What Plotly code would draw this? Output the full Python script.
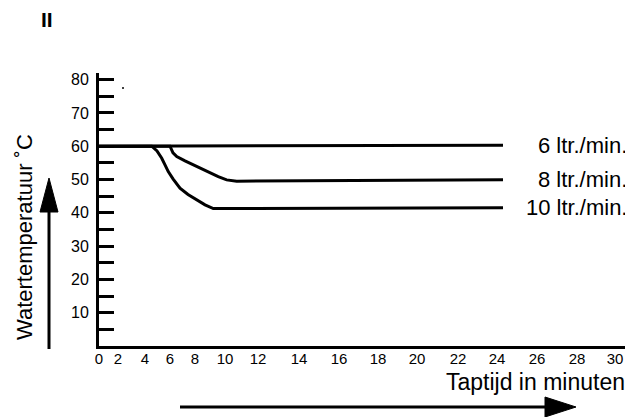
import numpy as np
import plotly.graph_objects as go

# ---------------- data ----------------
TIME_TICKS = [0, 2, 4, 6, 8, 10, 12, 14, 16, 18, 20, 22, 24, 26, 28, 30]
TEMP_TICKS = [10, 20, 30, 40, 50, 60, 70, 80]

TIME_6 = [0, 24.3]
TEMP_6 = [60.0, 60.3]

TIME_8 = [0, 6.0, 6.24, 6.54, 7.2, 7.86, 8.4, 9.0, 9.55, 10.1, 10.71, 24.3]
TEMP_8 = [60.0, 60.0, 58.0, 56.9, 55.6, 54.4, 53.3, 52.2, 50.9, 49.9, 49.5, 49.9]

TIME_10 = [0, 4.54, 4.96, 5.34, 5.6, 5.86, 6.24, 6.8, 7.44, 8.11, 8.67, 9.22, 24.3]
TEMP_10 = [60.0, 60.0, 58.6, 56.4, 54.4, 52.4, 50.2, 47.4, 45.5, 43.9, 42.4, 41.3, 41.5]

SERIES_LABELS = ["6 ltr./min.", "8 ltr./min.", "10 ltr./min."]

# ---------------- layout ----------------
OFF = 8                      # page offset of the figure inside the browser window
WIN_W, WIN_H = 633, 417
W, H = WIN_W - OFF, WIN_H - OFF
PL, PR, PT, PB = 99, 633, 73, 346      # plot area in window pixels
# the printed time axis is not evenly spaced: axis position of each tick label
TICK_POS = [99, 118, 145, 170, 195, 225, 258, 299, 339, 378, 417, 458, 497, 537, 577, 615]
X_RANGE = [PL, PR]
Y_RANGE = [0, 82.0]
FONT = "Liberation Sans, Arial, Helvetica, sans-serif"


def tscale(minutes):
    """piecewise-linear time scale of the printed axis"""
    return np.interp(minutes, TIME_TICKS, TICK_POS)


def px(x):
    return (x - PL) / (PR - PL)


def py(y):
    return (PB - y) / (PB - PT)


fig = go.Figure()
for t, v in [(TIME_6, TEMP_6), (TIME_8, TEMP_8), (TIME_10, TEMP_10)]:
    fig.add_trace(go.Scatter(
        x=tscale(t), y=v, mode="lines",
        line=dict(color="black", width=3),
        showlegend=False, hoverinfo="skip"))

annotations = []
ends = [TEMP_6[-1], TEMP_8[-1], TEMP_10[-1]]
for lab, yv in zip(SERIES_LABELS, ends):
    annotations.append(dict(x=px(629), xref="paper", y=yv, yref="y", text=lab,
                            xanchor="right", yanchor="middle",
                            showarrow=False, font=dict(size=22, family=FONT, color="black")))

annotations.append(dict(x=px(627), y=py(382), xref="paper", yref="paper",
                        text="Taptijd in minuten", xanchor="right", yanchor="middle",
                        showarrow=False, font=dict(size=23, family=FONT, color="black")))
annotations.append(dict(x=px(24), y=py(237), xref="paper", yref="paper",
                        text="Watertemperatuur ˚C", textangle=-90,
                        xanchor="center", yanchor="middle",
                        showarrow=False, font=dict(size=22, family=FONT, color="black")))
annotations.append(dict(x=px(47), y=py(19), xref="paper", yref="paper",
                        text="<b>II</b>", xanchor="center", yanchor="middle",
                        showarrow=False, font=dict(size=21, family=FONT, color="black")))

shapes = [
    dict(type="line", xref="paper", yref="paper", x0=px(180), x1=px(548),
         y0=py(407), y1=py(407), line=dict(color="black", width=3)),
    dict(type="path", xref="paper", yref="paper",
         path=f"M {px(545)} {py(397)} L {px(576)} {py(407)} L {px(545)} {py(417)} Z",
         fillcolor="black", line=dict(color="black", width=1)),
    dict(type="line", xref="paper", yref="paper", x0=px(49), x1=px(49),
         y0=py(349), y1=py(205), line=dict(color="black", width=3)),
    dict(type="path", xref="paper", yref="paper",
         path=f"M {px(40)} {py(212)} L {px(49)} {py(178)} L {px(58)} {py(212)} Z",
         fillcolor="black", line=dict(color="black", width=1)),
    # small speck printed in the original near the top of the axis
    dict(type="circle", xref="paper", yref="paper", x0=px(122), x1=px(124),
         y0=py(87), y1=py(89), fillcolor="black", line=dict(width=0)),
]

ytickvals = list(range(5, 81, 5))
yticktext = [str(v) if v in TEMP_TICKS else "" for v in ytickvals]

fig.update_layout(
    width=W, height=H,
    margin=dict(l=PL - OFF, r=(OFF + W) - PR, t=PT - OFF, b=(OFF + H) - PB, pad=0),
    paper_bgcolor="white", plot_bgcolor="white",
    font=dict(family=FONT, color="black"),
    xaxis=dict(range=X_RANGE, tickvals=TICK_POS, ticktext=[str(t) for t in TIME_TICKS],
               showgrid=False, zeroline=False, showline=True, linecolor="black",
               linewidth=3, ticks="", tickfont=dict(size=15, family=FONT),
               ticklabelstandoff=-3, fixedrange=True),
    yaxis=dict(range=Y_RANGE, tickvals=ytickvals, ticktext=yticktext,
               showgrid=False, zeroline=False, showline=True, linecolor="black",
               linewidth=3, ticks="inside", ticklen=15, tickwidth=2.5, tickcolor="black",
               tickfont=dict(size=16, family=FONT), ticklabelstandoff=4, fixedrange=True),
    annotations=annotations,
    shapes=shapes,
)

fig.write_html("out.html")
